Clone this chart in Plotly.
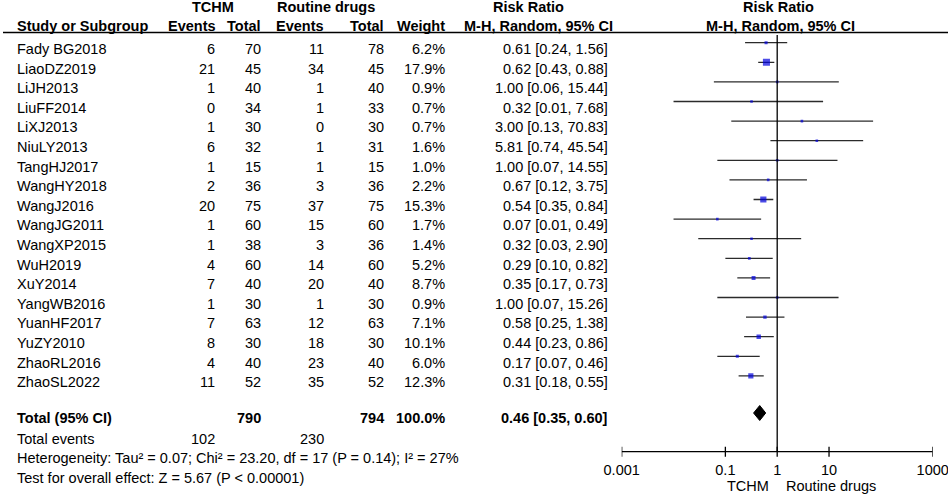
import math
import plotly.graph_objects as go

studies = ["Fady BG2018", "LiaoDZ2019", "LiJH2013", "LiuFF2014", "LiXJ2013", "NiuLY2013",
           "TangHJ2017", "WangHY2018", "WangJ2016", "WangJG2011", "WangXP2015", "WuH2019",
           "XuY2014", "YangWB2016", "YuanHF2017", "YuZY2010", "ZhaoRL2016", "ZhaoSL2022"]
tchm_events = [6, 21, 1, 0, 1, 6, 1, 2, 20, 1, 1, 4, 7, 1, 7, 8, 4, 11]
tchm_total = [70, 45, 40, 34, 30, 32, 15, 36, 75, 60, 38, 60, 40, 30, 63, 30, 40, 52]
rd_events = [11, 34, 1, 1, 0, 1, 1, 3, 37, 15, 3, 14, 20, 1, 12, 18, 23, 35]
rd_total = [78, 45, 40, 33, 30, 31, 15, 36, 75, 60, 36, 60, 40, 30, 63, 30, 40, 52]
weights = [6.2, 17.9, 0.9, 0.7, 0.7, 1.6, 1.0, 2.2, 15.3, 1.7, 1.4, 5.2, 8.7, 0.9, 7.1, 10.1, 6.0, 12.3]
rr = [0.61, 0.62, 1.00, 0.32, 3.00, 5.81, 1.00, 0.67, 0.54, 0.07, 0.32, 0.29, 0.35, 1.00, 0.58, 0.44, 0.17, 0.31]
rr_lo = [0.24, 0.43, 0.06, 0.01, 0.13, 0.74, 0.07, 0.12, 0.35, 0.01, 0.03, 0.10, 0.17, 0.07, 0.25, 0.23, 0.07, 0.18]
rr_hi = [1.56, 0.88, 15.44, 7.68, 70.83, 45.54, 14.55, 3.75, 0.84, 0.49, 2.90, 0.82, 0.73, 15.26, 1.38, 0.86, 0.46, 0.55]

total_tchm, total_rd = 790, 794
total_weight = "100.0%"
events_tchm, events_rd = 102, 230
pooled_rr, pooled_lo, pooled_hi = 0.46, 0.35, 0.60
heterogeneity = "Heterogeneity: Tau² = 0.07; Chi² = 23.20, df = 17 (P = 0.14); I² = 27%"
overall = "Test for overall effect: Z = 5.67 (P < 0.00001)"
tick_vals = [0.001, 0.1, 1, 10, 1000]
tick_text = ["0.001", "0.1", "1", "10", "1000"]

W, H = 948, 495
ROW0, STEP = 42.7, 19.6          # pixel y of first row marker, row spacing
AXIS_Y = 451.7                   # pixel y of the risk-ratio axis
FONT = "Liberation Sans, Arial, Helvetica, sans-serif"
FS = 14.5


def row(p):                       # pixel y -> row units on the y axis
    return (p - ROW0) / STEP


def fx(p):                        # pixel x -> paper x
    return p / W


def fy(p):                        # pixel y -> paper y
    return 1 - p / H


fig = go.Figure()

# CI lines
for i in range(len(studies)):
    fig.add_trace(go.Scatter(x=[rr_lo[i], rr_hi[i]], y=[i, i], mode="lines",
                             line=dict(color="#2b2b2b", width=1.3),
                             hoverinfo="skip", showlegend=False))
# boxes (size grows with weight)
fig.add_trace(go.Scatter(x=rr, y=list(range(len(studies))), mode="markers",
                         marker=dict(symbol="square", color="#0000DD",
                                     size=[max(2.6, 1.0 + 0.34 * w) for w in weights],
                                     line=dict(width=0)),
                         hoverinfo="skip", showlegend=False))
# pooled diamond
yd = row(413)
dh = 7.5 / STEP
fig.add_trace(go.Scatter(x=[pooled_lo, pooled_rr, pooled_hi, pooled_rr, pooled_lo],
                         y=[yd, yd - dh, yd, yd + dh, yd], mode="lines", fill="toself",
                         fillcolor="black", line=dict(color="black", width=1),
                         hoverinfo="skip", showlegend=False))
# line of no effect
fig.add_trace(go.Scatter(x=[1, 1], y=[row(35), row(AXIS_Y)], mode="lines",
                         line=dict(color="black", width=1.3),
                         hoverinfo="skip", showlegend=False))

ann = []


def txt(x, y, s, anchor="left", bold=False):
    ann.append(dict(x=fx(x), y=fy(y), xref="paper", yref="paper",
                    text=f"<b>{s}</b>" if bold else s,
                    showarrow=False, xanchor=anchor, yanchor="middle",
                    font=dict(family=FONT, size=FS, color="black")))


# headers
hy1, hy2 = 7.5, 26
txt(213, hy1, "TCHM", "center", True)
txt(326, hy1, "Routine drugs", "center", True)
txt(528, hy1, "Risk Ratio", "center", True)
txt(778, hy1, "Risk Ratio", "center", True)
txt(15, hy2, "Study or Subgroup", "left", True)
txt(218, hy2, "Events", "right", True)
txt(263, hy2, "Total", "right", True)
txt(326, hy2, "Events", "right", True)
txt(386, hy2, "Total", "right", True)
txt(447, hy2, "Weight", "right", True)
txt(615, hy2, "M-H, Random, 95% CI", "right", True)
txt(780, hy2, "M-H, Random, 95% CI", "center", True)

for i, s in enumerate(studies):
    y = ROW0 + STEP * i + 6.3
    txt(15, y, s)
    txt(217, y, str(tchm_events[i]), "right")
    txt(263, y, str(tchm_total[i]), "right")
    txt(326, y, str(rd_events[i]), "right")
    txt(386, y, str(rd_total[i]), "right")
    txt(447, y, f"{weights[i]:.1f}%", "right")
    txt(610, y, f"{rr[i]:.2f} [{rr_lo[i]:.2f}, {rr_hi[i]:.2f}]", "right")

ty = 417.5
txt(15, ty, "Total (95% CI)", "left", True)
txt(263, ty, str(total_tchm), "right", True)
txt(386, ty, str(total_rd), "right", True)
txt(447, ty, total_weight, "right", True)
txt(610, ty, f"{pooled_rr:.2f} [{pooled_lo:.2f}, {pooled_hi:.2f}]", "right", True)
ey = 438.5
txt(15, ey, "Total events")
txt(217, ey, str(events_tchm), "right")
txt(326, ey, str(events_rd), "right")
txt(15, 458, heterogeneity)
txt(15, 477.5, overall)

# favours labels either side of RR = 1 (annotations on a log axis take log10 positions)
for label, anchor, shift in (("TCHM", "right", -6), ("Routine drugs", "left", 7)):
    ann.append(dict(x=math.log10(1), y=fy(486), xref="x", yref="paper", text=label,
                    showarrow=False, xanchor=anchor, yanchor="middle", xshift=shift,
                    font=dict(family=FONT, size=FS, color="black")))

# rule under the header, the axis line and its crossing ticks (data values on the log axis)
shapes = [dict(type="line", xref="paper", yref="paper", x0=fx(3), x1=1, y0=fy(32.5), y1=fy(32.5),
               line=dict(color="black", width=1.3)),
          dict(type="line", xref="x", yref="paper", x0=tick_vals[0], x1=tick_vals[-1],
               y0=fy(AXIS_Y), y1=fy(AXIS_Y), line=dict(color="black", width=1.3))]
for v in tick_vals:
    shapes.append(dict(type="line", xref="x", yref="paper", x0=v, x1=v,
                       y0=fy(AXIS_Y + 5), y1=fy(AXIS_Y - 5), line=dict(color="black", width=1.3)))

fig.update_layout(
    template="none",
    width=W, height=H,
    autosize=False,
    margin=dict(l=0, r=0, t=0, b=0, pad=0, autoexpand=False),
    paper_bgcolor="white", plot_bgcolor="rgba(0,0,0,0)",
    font=dict(family=FONT, size=FS, color="black"),
    showlegend=False,
    annotations=ann,
    shapes=shapes,
    xaxis=dict(type="log", range=[-3, 3], autorange=False, domain=[fx(621.7), fx(932.7)],
               anchor="y", showgrid=False, zeroline=False, fixedrange=True, automargin=False,
               showline=False, ticks="outside", ticklen=5, tickcolor="rgba(0,0,0,0)",
               tickvals=tick_vals, ticktext=tick_text, ticklabeloverflow="allow",
               tickfont=dict(family=FONT, size=FS, color="black")),
    yaxis=dict(range=[row(AXIS_Y), row(0)], autorange=False,
               domain=[fy(AXIS_Y), 1], visible=False,
               fixedrange=True, automargin=False, showgrid=False, zeroline=False),
)

fig.write_html("out.html", config={"displayModeBar": False},
               post_script="document.body.style.margin='0';")
